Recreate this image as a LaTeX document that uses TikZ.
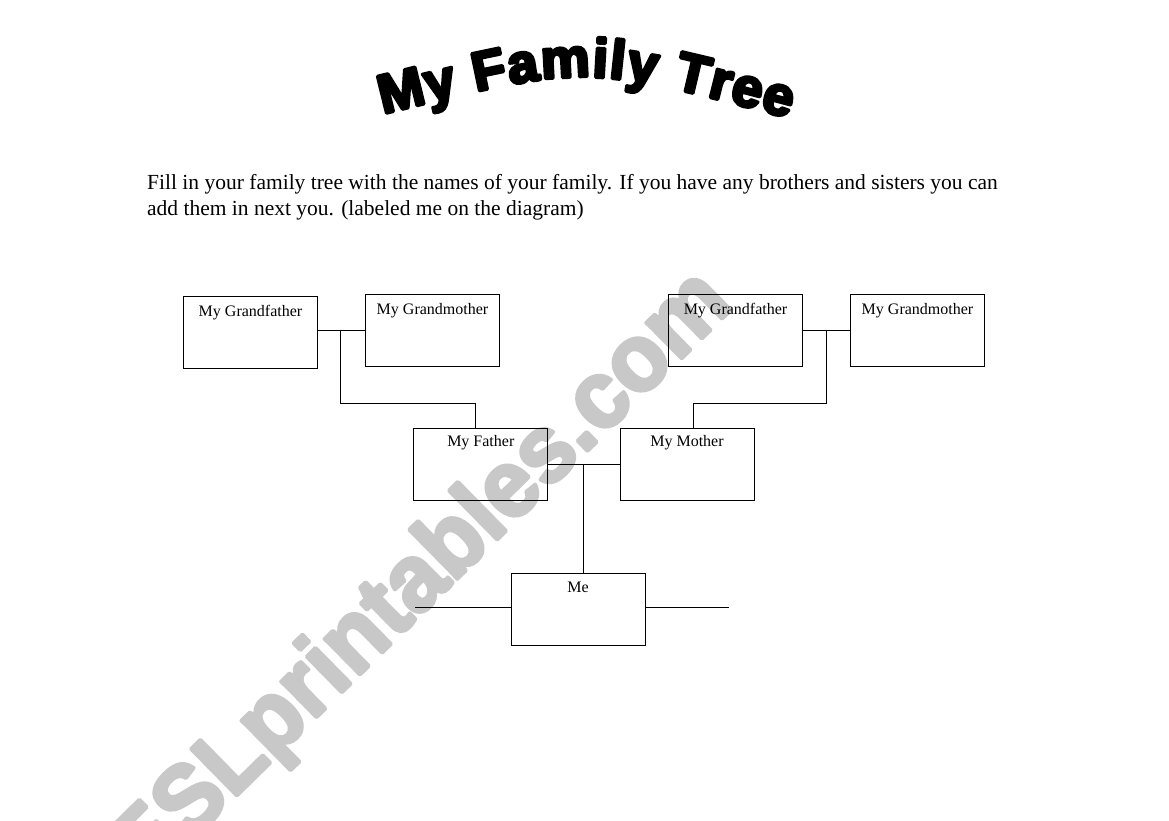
\documentclass[tikz,border=0pt]{standalone}
\usepackage{fontspec}
\setmainfont{Liberation Serif}
\newfontfamily\titlefont[FakeBold=6]{Liberation Sans}
\newfontfamily\wmfont[FakeBold=4]{Liberation Sans}
\usetikzlibrary{decorations.text}
\definecolor{wmgray}{RGB}{200,200,200}
\begin{document}
\begin{tikzpicture}[x=1pt,y=-1pt,
  famrect/.style={draw, line width=1pt, inner sep=0pt, minimum width=134pt, minimum height=72pt},
  lbl/.style={font=\fontsize{16}{18}\selectfont, inner sep=0pt, anchor=base},
  conn/.style={line width=1pt},
  instr/.style={font=\fontsize{21.5}{24}\selectfont, inner sep=0pt, anchor=base west}]
\useasboundingbox (0,0) rectangle (1169,821);
\fill[white] (0,0) rectangle (1169,821);
% watermark
\begin{scope}[line join=round]
\node[text=wmgray, rotate=44.5, anchor=base east, inner sep=0pt,
      font=\wmfont\bfseries\fontsize{95}{95}\selectfont] (wm) at (735,306)
      {\scalebox{0.96}[1]{ESLprintables.com}};
\end{scope}
% title
\begin{scope}[line join=round]
\path[decorate, decoration={text along path,
   text={|\titlefont\bfseries\fontsize{55}{55}\selectfont|My Family Tree},
   text align={fit to path}}]
   (383,114) .. controls (585,64) .. (789,118);
\end{scope}
% instructions
\node[instr] (instr1) at (147,189.5) {Fill in your family tree with the names of your family. If you have any brothers and sisters you can};
\node[instr] (instr2) at (147,215) {add them in next you. (labeled me on the diagram)};
% boxes
\node[famrect] (gf1) at (250.5,332.5) {};
\node[famrect] (gm1) at (432.5,330.5) {};
\node[famrect] (gf2) at (735.5,330.8) {};
\node[famrect] (gm2) at (917.5,330.8) {};
\node[famrect] (father) at (480.8,464.2) {};
\node[famrect] (mother) at (687,464.2) {};
\node[famrect] (me) at (578,609.5) {};
% labels
\node[lbl] (tgf1) at ([yshift=-20pt]gf1.north) {My Grandfather};
\node[lbl] (tgm1) at ([yshift=-20pt]gm1.north) {My Grandmother};
\node[lbl] (tgf2) at ([yshift=-20pt]gf2.north) {My Grandfather};
\node[lbl] (tgm2) at ([yshift=-20pt]gm2.north) {My Grandmother};
\node[lbl] (tfa) at ([yshift=-18.5pt]father.north) {My Father};
\node[lbl] (tmo) at ([yshift=-18.5pt]mother.north) {My Mother};
\node[lbl] (tme) at ([yshift=-19.5pt]me.north) {Me};
% connectors
\coordinate (j1) at (340.7,330);
\coordinate (d1) at (475,403.3);
\coordinate (j2) at (826,330);
\coordinate (d2) at (693.3,403.3);
\coordinate (j3) at (583.3,464);
\coordinate (sl) at (415,607.3);
\coordinate (sr) at (729.3,607.3);
\draw[conn] (gf1.east |- j1) -- (gm1.west |- j1);
\draw[conn] (j1) |- (d1) -- (d1 |- father.north);
\draw[conn] (gf2.east |- j2) -- (gm2.west |- j2);
\draw[conn] (j2) |- (d2) -- (d2 |- mother.north);
\draw[conn] (father.east |- j3) -- (mother.west |- j3);
\draw[conn] (j3) -- (j3 |- me.north);
\draw[conn] (sl) -- (me.west |- sl);
\draw[conn] (me.east |- sr) -- (sr);
\end{tikzpicture}
\end{document}
